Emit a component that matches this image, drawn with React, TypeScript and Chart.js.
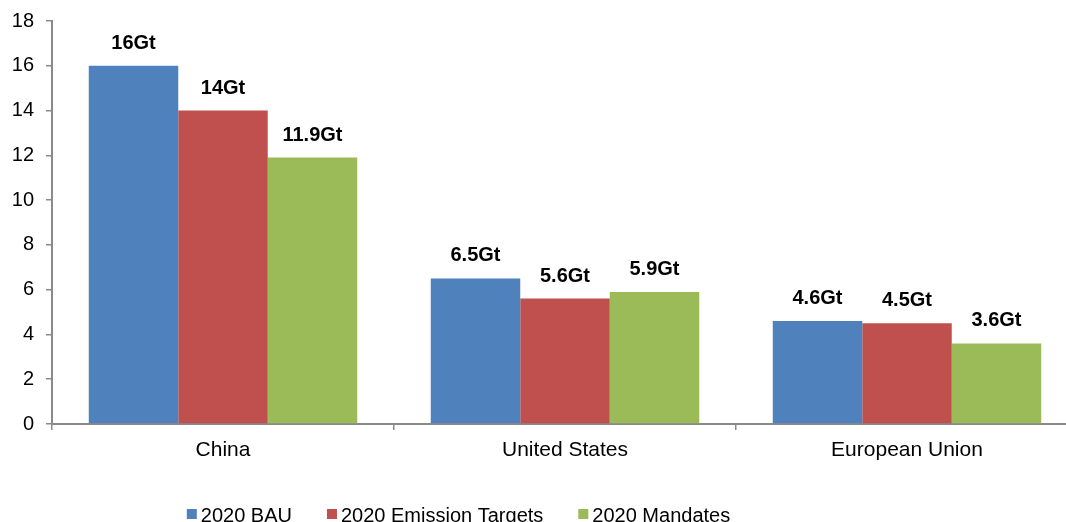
import React, { useEffect, useRef } from "react";
import { Chart, registerables } from "chart.js";

Chart.register(...registerables);

// Regions on the category axis
const regions = ["China", "United States", "European Union"];

// Series names, in legend order
const seriesNames = ["2020 BAU", "2020 Emission Targets", "2020 Mandates"];

// Emissions in gigatonnes (Gt)
const bau = [16, 6.5, 4.6];
const emissionTargets = [14, 5.6, 4.5];
const mandates = [11.9, 5.9, 3.6];

// Value axis range
const yMin = 0;
const yMax = 18;
const yStep = 2;

const seriesColors = ["#4F81BD", "#C0504D", "#9BBB59"];
const axisColor = "#8A8A8A";
const fontFamily = "'Liberation Sans', Arial, Helvetica, sans-serif";

const CANVAS_W = 1090;
const CANVAS_H = 545;

// Bold "xxGt" labels above each bar
const valueLabels = {
  id: "valueLabels",
  afterDatasetsDraw(chart: any) {
    const ctx = chart.ctx;
    ctx.save();
    ctx.font = `bold 20px ${fontFamily}`;
    ctx.fillStyle = "#000000";
    ctx.textAlign = "center";
    ctx.textBaseline = "alphabetic";
    chart.data.datasets.forEach((ds: any, i: number) => {
      chart.getDatasetMeta(i).data.forEach((bar: any, j: number) => {
        ctx.fillText(`${ds.data[j]}Gt`, bar.x, bar.y - 17);
      });
    });
    ctx.restore();
  },
};

// Compact legend row under the axis: square swatch followed by the name
const bottomLegend = {
  id: "bottomLegend",
  afterDraw(chart: any) {
    const ctx = chart.ctx;
    ctx.save();
    ctx.font = `20px ${fontFamily}`;
    ctx.textBaseline = "middle";
    ctx.textAlign = "left";
    const box = 10;
    const gap = 4;
    const spacing = 35;
    const widths = seriesNames.map((n) => ctx.measureText(n).width);
    const total =
      widths.reduce((acc, w) => acc + box + gap + w, 0) +
      spacing * (seriesNames.length - 1);
    let x = 458.5 - total / 2;
    const yMid = 515;
    seriesNames.forEach((name, i) => {
      ctx.fillStyle = seriesColors[i];
      ctx.fillRect(x, yMid - box / 2 - 1, box, box);
      ctx.fillStyle = "#000000";
      ctx.fillText(name, x + box + gap, yMid + 1);
      x += box + gap + widths[i] + spacing;
    });
    ctx.restore();
  },
};

export default function App() {
  const canvasRef = useRef<HTMLCanvasElement | null>(null);

  useEffect(() => {
    if (!canvasRef.current) return;
    const series = [bau, emissionTargets, mandates];
    const chart = new Chart(canvasRef.current, {
      type: "bar",
      data: {
        labels: regions,
        datasets: series.map((values, i) => ({
          label: seriesNames[i],
          data: values,
          backgroundColor: seriesColors[i],
          borderWidth: 0,
          barPercentage: 1,
          categoryPercentage: 0.785,
        })),
      },
      options: {
        animation: false,
        responsive: false,
        devicePixelRatio: 1,
        layout: { padding: { top: 21, right: 12, bottom: 81, left: 0 } },
        plugins: {
          legend: { display: false },
          tooltip: { enabled: false },
        },
        scales: {
          x: {
            grid: {
              display: true,
              drawOnChartArea: false,
              drawTicks: true,
              tickLength: 6,
              color: axisColor,
              lineWidth: 1.5,
              offset: true,
            },
            border: { display: true, color: axisColor, width: 2 },
            ticks: {
              color: "#000000",
              font: { family: fontFamily, size: 21 },
              padding: 8,
            },
            afterFit(scale: any) {
              scale.height = 40;
            },
          },
          y: {
            min: yMin,
            max: yMax,
            ticks: {
              stepSize: yStep,
              color: "#000000",
              font: { family: fontFamily, size: 20, lineHeight: 1 },
              padding: 12,
            },
            grid: {
              display: true,
              drawOnChartArea: false,
              drawTicks: true,
              tickLength: 6,
              color: axisColor,
              lineWidth: 1.5,
            },
            border: { display: true, color: axisColor, width: 2 },
            afterFit(scale: any) {
              scale.width = 52;
              scale.paddingTop = 0;
              scale.paddingBottom = 0;
            },
          },
        },
      },
      plugins: [valueLabels, bottomLegend],
    });
    return () => chart.destroy();
  }, []);

  return (
    <div
      style={{
        position: "fixed",
        left: 0,
        top: 0,
        width: 1066,
        height: 522,
        overflow: "hidden",
        background: "#ffffff",
      }}
    >
      <canvas
        ref={canvasRef}
        width={CANVAS_W}
        height={CANVAS_H}
        style={{ display: "block", width: CANVAS_W, height: CANVAS_H }}
      />
    </div>
  );
}
